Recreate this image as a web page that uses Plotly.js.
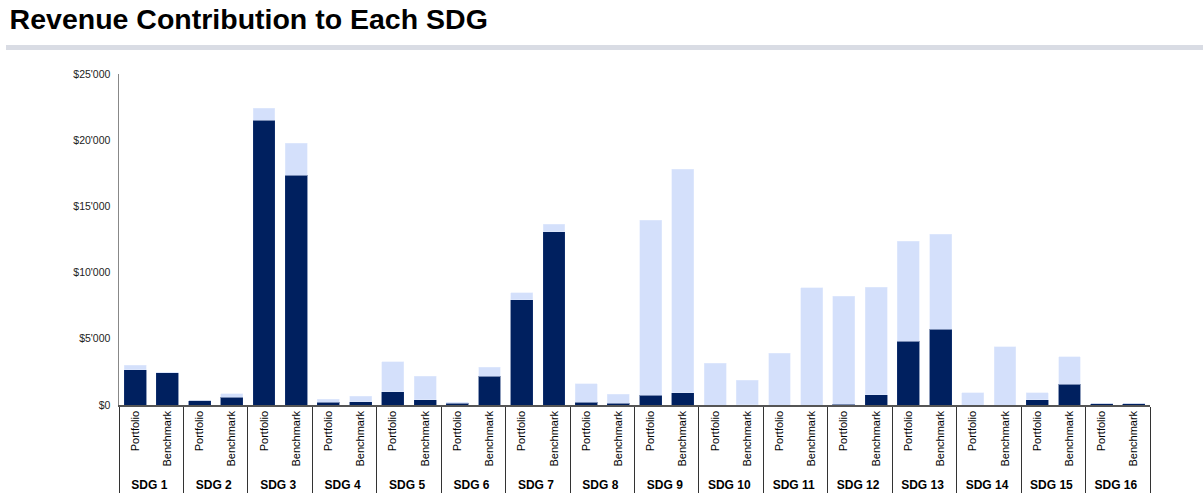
<!DOCTYPE html>
<html>
<head>
<meta charset="utf-8">
<script src="https://cdn.plot.ly/plotly-3.0.1.min.js"></script>
<style>html,body{margin:0;padding:0;background:#fff;}#chart{width:1203px;height:499px;}</style>
</head>
<body>
<div id="chart"></div>
<script>
// SDG groups and bar labels
const sdgs = ['SDG 1','SDG 2','SDG 3','SDG 4','SDG 5','SDG 6','SDG 7','SDG 8',
              'SDG 9','SDG 10','SDG 11','SDG 12','SDG 13','SDG 14','SDG 15','SDG 16'];
const barLabels = ['Portfolio','Benchmark'];

// Dark (lower) segment values, per SDG
const darkPortfolio = [2670, 330, 21500, 200, 1000, 130, 7950, 200, 730, 0, 0, 40, 4830, 0, 380, 80];
const darkBenchmark = [2440, 600, 17350, 230, 380, 2190, 13070, 120, 930, 30, 0, 780, 5720, 0, 1560, 80];

// Light (upper) segment values, per SDG
const lightPortfolio = [350, 0, 910, 250, 2250, 70, 530, 1390, 13220, 3170, 3900, 8190, 7530, 930, 550, 0];
const lightBenchmark = [20, 250, 2420, 450, 1810, 660, 600, 690, 16870, 1830, 8840, 8110, 7170, 4400, 2070, 0];

// Y-axis ticks
const yTicks = [0, 5000, 10000, 15000, 20000, 25000];
const yTickLabels = ["$0", "$5'000", "$10'000", "$15'000", "$20'000", "$25'000"];

const groupCats = [], subCats = [], darkVals = [], lightVals = [];
sdgs.forEach((s, i) => {
  const g = '<span style="font-size:12px"><b>' + s + '</b></span>';
  groupCats.push(g, g);
  subCats.push(barLabels[0], barLabels[1]);
  darkVals.push(darkPortfolio[i], darkBenchmark[i]);
  lightVals.push(lightPortfolio[i], lightBenchmark[i]);
});

const traces = [
  { type: 'bar', x: [groupCats, subCats], y: darkVals, name: 'Dark',
    marker: { color: '#00205f', line: { color: '#1c3a78', width: 0.5 } }, hoverinfo: 'y' },
  { type: 'bar', x: [groupCats, subCats], y: lightVals, name: 'Light',
    marker: { color: '#d4e0fb', line: { color: '#e4ecfd', width: 0.5 } }, hoverinfo: 'y' }
];

const layout = {
  width: 1203, height: 499,
  margin: { l: 119, r: 53, t: 74, b: 94 },
  paper_bgcolor: '#ffffff', plot_bgcolor: '#ffffff',
  barmode: 'stack', bargap: 0.32,
  showlegend: false,
  font: { family: '"Liberation Sans", Arial, sans-serif', color: '#000' },
  title: {
    text: 'Revenue Contribution to Each SDG',
    font: { family: '"Liberation Sans", Arial, sans-serif', size: 28.5, weight: 'bold', color: '#000' },
    x: 0.008, xanchor: 'left', xref: 'container',
    y: 0.982, yanchor: 'top', yref: 'container'
  },
  xaxis: {
    type: 'multicategory',
    showline: true, linecolor: '#555', linewidth: 1.5,
    ticks: '', tickangle: -90,
    tickfont: { size: 11, color: '#000' },
    showdividers: true, dividercolor: '#333', dividerwidth: 1,
    showgrid: false, zeroline: false
  },
  yaxis: {
    range: [0, 25000], tickmode: 'array', tickvals: yTicks, ticktext: yTickLabels,
    showline: true, linecolor: '#888', linewidth: 1.5,
    ticks: '', showgrid: false, zeroline: false,
    tickfont: { size: 10.5, color: '#222' }, ticklabelstandoff: 5
  },
  shapes: [
    { type: 'rect', xref: 'paper', yref: 'paper',
      x0: -0.1096, x1: 1.06, y0: 1.0725, y1: 1.0876,
      fillcolor: '#d9dce4', line: { width: 0 }, layer: 'below' }
  ]
};

Plotly.newPlot('chart', traces, layout, { displayModeBar: false, staticPlot: true });
</script>
</body>
</html>
